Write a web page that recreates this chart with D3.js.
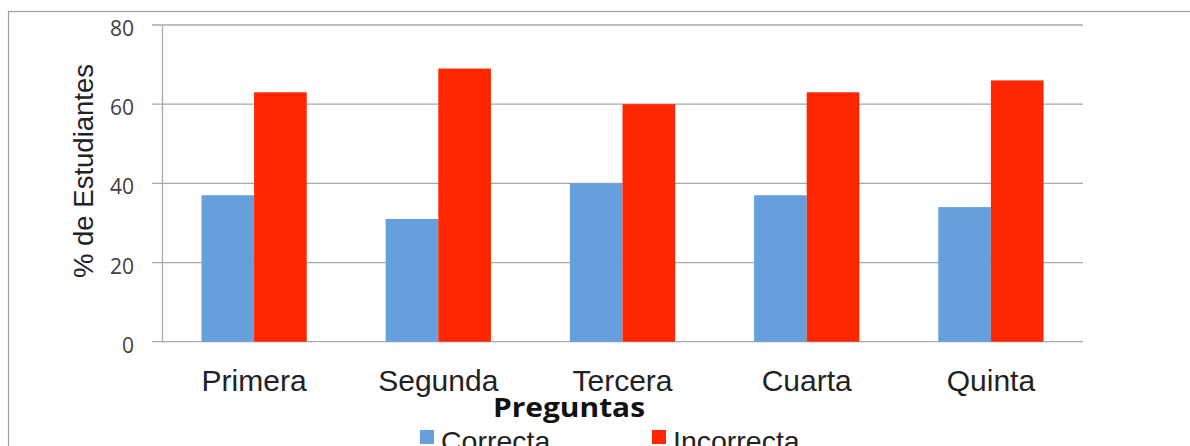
<!DOCTYPE html>
<html>

<head>
	<meta charset='utf-8'>
	<title>Preguntas</title>
	<script type='text/javascript' src='https://cdn.jsdelivr.net/npm/d3@7'></script>
	<style>
		body { margin: 0; background: #fff; }
	</style>
</head>

<body>
	<svg width='1190' height='446'></svg>
	<script>
		// datos
		const preguntas = ['Primera', 'Segunda', 'Tercera', 'Cuarta', 'Quinta']
		const series = ['Correcta', 'Incorrecta']
		const correcta = [37, 31, 40, 37, 34]
		const incorrecta = [63, 69, 60, 63, 66]
		const yTicks = [0, 20, 40, 60, 80]
		const colores = ['#659fdc', '#ff2600']

		const margin = ({ top: 25, right: 107, bottom: 104.3, left: 162 })
		const svg = d3.select('svg')
		const width = +svg.attr('width')
		const height = +svg.attr('height')

		const data = preguntas.map((p, i) => ({ pregunta: p, valores: [correcta[i], incorrecta[i]] }))

		// marco exterior
		svg.append('rect')
			.attr('x', 8.5).attr('y', 11.5)
			.attr('width', 1200).attr('height', 500)
			.attr('fill', 'none').attr('stroke', '#a0a0a0').attr('stroke-width', 1.2)

		const x0 = d3.scaleBand()
			.domain(preguntas)
			.range([margin.left, width - margin.right])
			.paddingInner(1.5 / 3.5)
			.paddingOuter(1.5 / 7)

		const x1 = d3.scaleBand()
			.domain(series)
			.range([0, x0.bandwidth()])

		const y = d3.scaleLinear()
			.domain([0, 80])
			.range([height - margin.bottom, margin.top])

		// lineas de cuadricula
		svg.append('g')
			.selectAll('line')
			.data(yTicks)
			.join('line')
			.attr('x1', margin.left - 10)
			.attr('x2', width - margin.right)
			.attr('y1', d => y(d))
			.attr('y2', d => y(d))
			.attr('stroke', '#a9a9a9')
			.attr('stroke-width', 1.3)

		// eje y
		const yAxis = d3.axisLeft(y).tickValues(yTicks).tickSize(0).tickPadding(28)
		const gy = svg.append('g')
			.attr('transform', `translate(${margin.left},0)`)
			.call(yAxis)
		gy.select('.domain').attr('stroke', '#a9a9a9').attr('stroke-width', 1.3)
		gy.selectAll('text')
			.attr('dy', '0.5em')
			.attr('font-family', 'Open Sans')
			.attr('font-size', 21)
			.attr('fill', '#404040')

		// barras
		svg.append('g')
			.selectAll('g')
			.data(data)
			.join('g')
			.attr('transform', d => `translate(${x0(d.pregunta)},0)`)
			.selectAll('rect')
			.data(d => d.valores.map((v, i) => ({ serie: series[i], v: v, c: colores[i] })))
			.join('rect')
			.attr('x', d => x1(d.serie))
			.attr('width', x1.bandwidth())
			.attr('y', d => y(d.v))
			.attr('height', d => y(0) - y(d.v))
			.attr('fill', d => d.c)

		// eje x
		const xAxis = d3.axisBottom(x0).tickSize(0).tickPadding(28)
		const gx = svg.append('g')
			.attr('transform', `translate(0,${height - margin.bottom})`)
			.call(xAxis)
		gx.select('.domain').remove()
		gx.selectAll('text')
			.attr('font-family', 'Liberation Sans')
			.attr('font-size', 30)
			.attr('fill', '#222')

		// titulos
		svg.append('text')
			.attr('transform', 'translate(93,171) rotate(-90)')
			.attr('text-anchor', 'middle')
			.attr('font-family', 'Liberation Sans')
			.attr('font-size', 27.5)
			.attr('fill', '#222')
			.text('% de Estudiantes')

		svg.append('text')
			.attr('x', 569)
			.attr('y', 417)
			.attr('text-anchor', 'middle')
			.attr('font-family', 'Open Sans')
			.attr('font-weight', 'bold')
			.attr('font-size', 26)
			.attr('textLength', 152)
			.attr('lengthAdjust', 'spacingAndGlyphs')
			.attr('fill', '#111')
			.text('Preguntas')

		// leyenda
		const legendX = [420, 652]
		const legend = svg.append('g')
			.selectAll('g')
			.data(series)
			.join('g')
			.attr('transform', (d, i) => `translate(${legendX[i]},430)`)
		legend.append('rect')
			.attr('width', 14).attr('height', 14)
			.attr('fill', (d, i) => colores[i])
		legend.append('text')
			.attr('x', 21)
			.attr('y', 20.5)
			.attr('font-family', 'Liberation Sans')
			.attr('font-size', 28.5)
			.attr('fill', '#222')
			.text(d => d)
	</script>
</body>

</html>
